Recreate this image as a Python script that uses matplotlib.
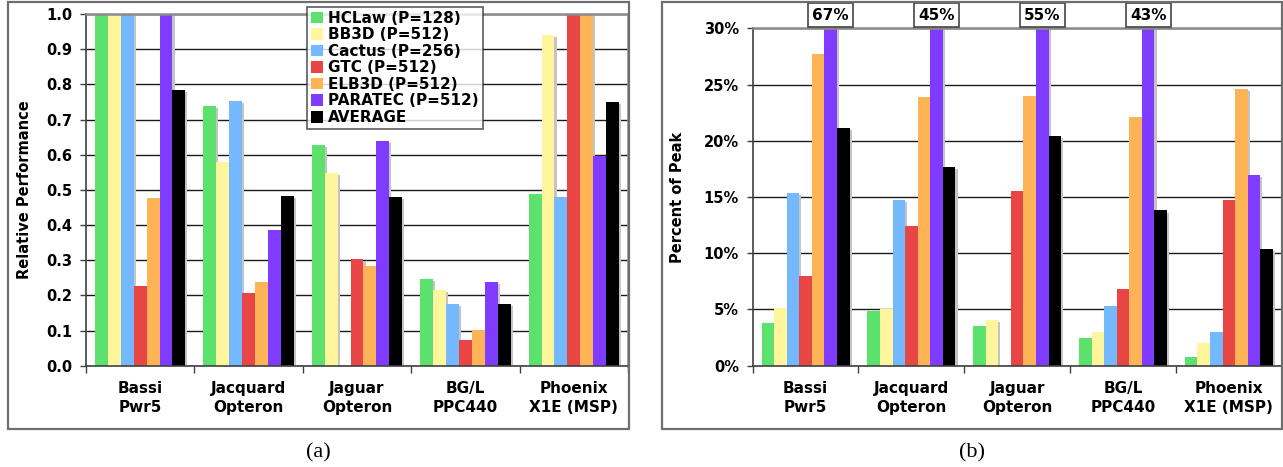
import numpy as np
import matplotlib
matplotlib.use("Agg")
import matplotlib.pyplot as plt
import matplotlib.patheffects as pe
from matplotlib.patches import Rectangle
from matplotlib.ticker import PercentFormatter, FixedLocator, NullFormatter

plt.rcParams['font.family'] = ['DejaVu Sans']

machines = ["Bassi\nPwr5", "Jacquard\nOpteron", "Jaguar\nOpteron", "BG/L\nPPC440", "Phoenix\nX1E (MSP)"]
series_names = ["HCLaw (P=128)", "BB3D (P=512)", "Cactus (P=256)", "GTC (P=512)",
                "ELB3D (P=512)", "PARATEC (P=512)", "AVERAGE"]
colors = ["#5CE26C", "#FFF59D", "#74B8FF", "#E84545", "#FFB357", "#7F3BFF", "#000000"]

# Relative performance (panel a)
rel_hclaw   = [1.000, 0.738, 0.627, 0.246, 0.488]
rel_bb3d    = [1.000, 0.579, 0.548, 0.215, 0.940]
rel_cactus  = [1.000, 0.753, 0.000, 0.175, 0.480]
rel_gtc     = [0.227, 0.207, 0.303, 0.073, 1.000]
rel_elb3d   = [0.477, 0.238, 0.283, 0.101, 1.000]
rel_paratec = [1.000, 0.386, 0.639, 0.238, 0.597]
rel_average = [0.784, 0.482, 0.480, 0.175, 0.750]

# Percent of peak (panel b)
pk_hclaw   = [3.8, 4.9, 3.5, 2.5, 0.8]
pk_bb3d    = [5.1, 5.0, 4.1, 3.0, 2.0]
pk_cactus  = [15.4, 14.7, 0.0, 5.3, 3.0]
pk_gtc     = [8.0, 12.4, 15.5, 6.8, 14.7]
pk_elb3d   = [27.7, 23.9, 24.0, 22.1, 24.6]
pk_paratec = [67.0, 45.0, 55.0, 43.0, 17.0]
pk_average = [21.1, 17.7, 20.4, 13.8, 10.4]

rel_data = [rel_hclaw, rel_bb3d, rel_cactus, rel_gtc, rel_elb3d, rel_paratec, rel_average]
pk_data = [pk_hclaw, pk_bb3d, pk_cactus, pk_gtc, pk_elb3d, pk_paratec, pk_average]

W, H = 1283, 467
fig = plt.figure(figsize=(W / 100, H / 100), dpi=100)


def px_axes(x0, y0, x1, y1):
    return fig.add_axes([x0 / W, 1 - y1 / H, (x1 - x0) / W, (y1 - y0) / H])


# Panel frames
for (x0, y0, x1, y1) in [(8, 2, 629, 429), (662, 2, 1282, 429)]:
    fig.patches.append(Rectangle((x0 / W, 1 - y1 / H), (x1 - x0) / W, (y1 - y0) / H,
                                 transform=fig.transFigure, fill=False,
                                 edgecolor="#6e6e6e", linewidth=1.6, zorder=0))

bar_w = 0.119
shadow = [pe.SimplePatchShadow(offset=(1.5, -1.5), shadow_rgbFace="#c4c4c4", alpha=1.0), pe.Normal()]
x = np.arange(len(machines))


def style_axes(ax, ymax, yticks):
    ax.set_xlim(-0.5, len(machines) - 0.5)
    ax.set_ylim(0, ymax)
    ax.set_yticks(yticks)
    ax.yaxis.grid(True, color="#1a1a1a", linewidth=1.0)
    ax.set_axisbelow(True)
    for side in ["top", "right"]:
        ax.spines[side].set_color("#8a8a8a")
        ax.spines[side].set_linewidth(1.8)
    for side in ["left", "bottom"]:
        ax.spines[side].set_color("#404040")
        ax.spines[side].set_linewidth(1.2)
    ax.tick_params(axis="y", direction="out", length=4, width=1, color="#404040",
                   labelsize=10.5, pad=6)
    ax.xaxis.set_major_locator(FixedLocator(np.arange(-0.5, len(machines), 1.0)))
    ax.xaxis.set_major_formatter(NullFormatter())
    ax.xaxis.set_minor_locator(FixedLocator(x))
    ax.set_xticklabels(machines, minor=True, fontsize=11, fontweight="bold", linespacing=1.3)
    ax.tick_params(axis="x", which="major", direction="out", length=5, width=1, color="#404040")
    ax.tick_params(axis="x", which="minor", length=0, pad=11)


def draw_bars(ax, data):
    for i, (vals, col) in enumerate(zip(data, colors)):
        ax.bar(x + (i - 3) * bar_w, vals, width=bar_w, color=col, linewidth=0,
               label=series_names[i], path_effects=shadow, zorder=2)


# Panel (a)
ax1 = px_axes(86, 14, 628, 365.7)
draw_bars(ax1, rel_data)
style_axes(ax1, 1.0, np.arange(0, 1.01, 0.1))
ax1.yaxis.set_major_formatter(plt.FormatStrFormatter("%.1f"))
for lab in ax1.get_yticklabels():
    lab.set_fontweight("bold")
ax1.set_ylabel("Relative Performance", fontsize=10.5, fontweight="bold")
ax1.yaxis.set_label_coords((32 - 86) / 542, 0.5)

handles, labels = ax1.get_legend_handles_labels()
leg = ax1.legend(handles, labels, loc="upper left",
                 bbox_to_anchor=(307 / W, 1 - 7 / H), bbox_transform=fig.transFigure,
                 prop={"size": 11, "weight": "bold"}, frameon=True, fancybox=False,
                 borderaxespad=0, borderpad=0.25, labelspacing=0.1,
                 handlelength=0.8, handleheight=0.8, handletextpad=0.35)
leg.get_frame().set_edgecolor("#333333")
leg.get_frame().set_linewidth(1.2)
leg.set_zorder(10)
for h in leg.legend_handles:
    h.set_path_effects([])

# Panel (b)
ax2 = px_axes(752.7, 28.3, 1281.7, 365.7)
draw_bars(ax2, pk_data)
style_axes(ax2, 30, np.arange(0, 31, 5))
ax2.yaxis.set_major_formatter(PercentFormatter(xmax=100, decimals=0))
for lab in ax2.get_yticklabels():
    lab.set_fontweight("bold")
ax2.set_ylabel("Percent of Peak", fontsize=10.5, fontweight="bold")
ax2.yaxis.set_label_coords((685 - 752.7) / 529, 0.5)

# Values running past the axis top get a boxed label above the bar
par_idx = series_names.index("PARATEC (P=512)")
for j, v in enumerate(pk_paratec):
    if v > 30:
        ax2.annotate(f"{v:.0f}%", xy=(x[j] + (par_idx - 3) * bar_w, 1.039),
                     xycoords=("data", "axes fraction"), ha="center", va="center",
                     fontsize=11, fontweight="bold", annotation_clip=False,
                     bbox=dict(boxstyle="square,pad=0.28", facecolor="white",
                               edgecolor="#444444", linewidth=1.2))

fig.text(318 / W, 1 - 453 / H, "(a)", ha="center", va="center",
         fontsize=16, family="Liberation Serif")
fig.text(972 / W, 1 - 453 / H, "(b)", ha="center", va="center",
         fontsize=16, family="Liberation Serif")

fig.savefig("out.png", dpi=100)
